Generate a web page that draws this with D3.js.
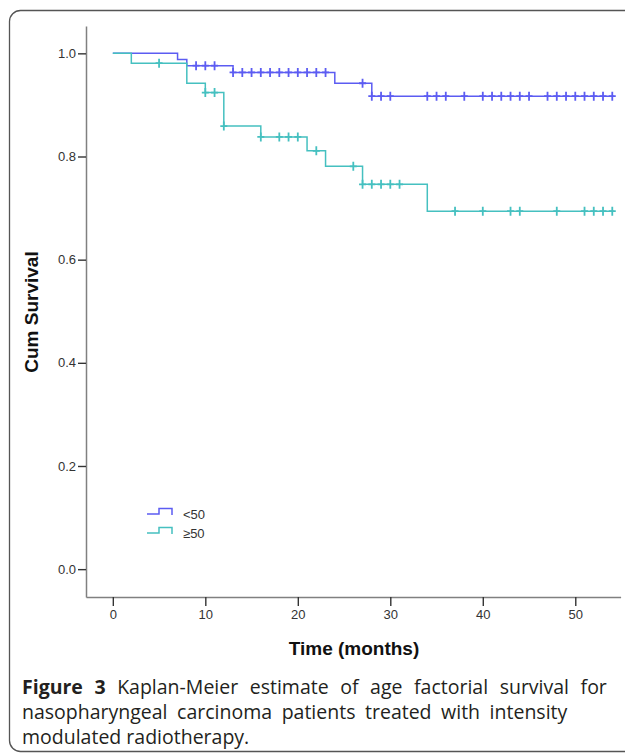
<!DOCTYPE html>
<html>
<head>
<meta charset="utf-8">
<script src="https://cdn.jsdelivr.net/npm/d3@7/dist/d3.min.js"></script>
<style>
  html, body { margin: 0; padding: 0; background: #fff; }
  svg { display: block; }
</style>
</head>
<body>
<div id="chart"></div>
<script>
// ---- data ----
const timeTicks = [0, 10, 20, 30, 40, 50];
const survivalTicks = [0.0, 0.2, 0.4, 0.6, 0.8, 1.0];
const groupLabels = ["<50", "\u226550"];

// age < 50
const youngStepTimes = [0, 7, 8, 13, 24, 28];
const youngStepSurvival = [1.0, 0.988, 0.976, 0.963, 0.942, 0.917];
const youngCensored = [9, 10, 11, 13, 14, 15, 16, 17, 18, 19, 20, 21, 22, 23, 27, 28, 29, 30,
  34, 35, 36, 38, 40, 41, 42, 43, 44, 45, 47, 48, 49, 50, 51, 52, 53, 54];
const youngLastTime = 54.2;

// age >= 50
const oldStepTimes = [0, 2, 8, 10, 12, 16, 21, 23, 27, 34];
const oldStepSurvival = [1.0, 0.981, 0.942, 0.924, 0.859, 0.838, 0.811, 0.781, 0.746, 0.694];
const oldCensored = [5, 10, 11, 12, 16, 18, 19, 20, 22, 26, 27, 28, 29, 30, 31, 37, 40, 43, 44,
  48, 51, 52, 53, 54];
const oldLastTime = 54.2;

const captionLines = [
  ["Figure 3", " Kaplan-Meier estimate of age factorial survival for"],
  ["", "nasopharyngeal carcinoma patients treated with intensity"],
  ["", "modulated radiotherapy."]
];

// ---- drawing ----
const width = 625;
const height = 755;
const colors = ["#5c5cf2", "#45c0c0"];

const svg = d3.select("#chart")
  .append("svg")
  .attr("width", width)
  .attr("height", height)
  .attr("viewBox", `0 0 ${width} ${height}`);

// outer panel frame (runs past the right edge)
svg.append("rect")
  .attr("x", 9.5)
  .attr("y", 10.5)
  .attr("width", 660)
  .attr("height", 741)
  .attr("rx", 11)
  .attr("fill", "none")
  .attr("stroke", "#555")
  .attr("stroke-width", 1.3);

const x = d3.scaleLinear().domain([-2.9, 54.9]).range([86, 620.6]);
const y = d3.scaleLinear().domain([-0.054, 1.053]).range([597, 26]);

const font = "'Liberation Sans', Arial, sans-serif";

// y axis
svg.append("g")
  .attr("transform", `translate(${x.range()[0]},0)`)
  .call(d3.axisLeft(y).tickValues(survivalTicks).tickFormat(d3.format(".1f")).tickSize(8).tickSizeOuter(0).tickPadding(2))
  .call((g) => g.select(".domain").attr("stroke", "#808080").attr("stroke-width", 1.5))
  .call((g) => g.selectAll(".tick line").attr("stroke", "#333").attr("stroke-width", 1.4))
  .call((g) => g.selectAll("text").attr("fill", "#333").attr("font-size", 13).attr("font-family", font));

// x axis
svg.append("g")
  .attr("transform", `translate(0,${y.range()[0]})`)
  .call(d3.axisBottom(x).tickValues(timeTicks).tickFormat(d3.format("d")).tickSize(9).tickSizeOuter(0).tickPadding(4))
  .call((g) => g.select(".domain").attr("stroke", "#808080").attr("stroke-width", 1.5))
  .call((g) => g.selectAll(".tick line").attr("stroke", "#333").attr("stroke-width", 1.4))
  .call((g) => g.selectAll("text").attr("fill", "#333").attr("font-size", 13).attr("font-family", font));

// axis titles
svg.append("text")
  .attr("transform", "translate(38,312) rotate(-90)")
  .attr("text-anchor", "middle")
  .attr("font-family", font)
  .attr("font-weight", "bold")
  .attr("font-size", 19)
  .attr("fill", "#111")
  .text("Cum Survival");

svg.append("text")
  .attr("x", 354)
  .attr("y", 655)
  .attr("text-anchor", "middle")
  .attr("font-family", font)
  .attr("font-weight", "bold")
  .attr("font-size", 19)
  .attr("fill", "#111")
  .text("Time (months)");

// survival curves
const series = [
  { times: youngStepTimes, surv: youngStepSurvival, censored: youngCensored, last: youngLastTime },
  { times: oldStepTimes, surv: oldStepSurvival, censored: oldCensored, last: oldLastTime }
];

const line = d3.line()
  .x((d) => x(d[0]))
  .y((d) => y(d[1]))
  .curve(d3.curveStepAfter);

series.forEach((s, i) => {
  const pts = s.times.map((t, j) => [t, s.surv[j]]);
  pts.push([s.last, s.surv[s.surv.length - 1]]);

  svg.append("path")
    .datum(pts)
    .attr("d", line)
    .attr("fill", "none")
    .attr("stroke", colors[i])
    .attr("stroke-width", 1.5);

  const survAt = (t) => {
    let v = s.surv[0];
    s.times.forEach((tt, j) => { if (tt <= t) v = s.surv[j]; });
    return v;
  };

  svg.append("g")
    .selectAll("path")
    .data(s.censored)
    .join("path")
    .attr("d", (t) => {
      const cx = x(t), cy = y(survAt(t));
      return `M${cx},${cy - 4.5}V${cy + 4.5}M${cx - 3.5},${cy}H${cx + 3.5}`;
    })
    .attr("stroke", colors[i])
    .attr("stroke-width", 1.8)
    .attr("fill", "none");
});

// legend
const legend = svg.append("g").attr("transform", "translate(147,514)");
groupLabels.forEach((label, i) => {
  const row = legend.append("g").attr("transform", `translate(0,${i * 19})`);
  row.append("path")
    .attr("d", "M0,0H12V-5.5H25V1")
    .attr("fill", "none")
    .attr("stroke", colors[i])
    .attr("stroke-width", 1.5);
  row.append("text")
    .attr("x", 36)
    .attr("y", 4.5)
    .attr("font-family", font)
    .attr("font-size", 13)
    .attr("fill", "#333")
    .text(label);
});

// caption (first line justified, second slightly wider spaced as in the print)
const wordSpacing = [6.5, 4.5, 0];
captionLines.forEach((parts, i) => {
  const t = svg.append("text")
    .attr("x", 22)
    .attr("y", 694 + i * 25)
    .attr("font-family", "'Open Sans', 'Noto Sans', sans-serif")
    .attr("font-size", 19.5)
    .attr("fill", "#231f20")
    .attr("word-spacing", wordSpacing[i]);
  if (parts[0]) t.append("tspan").attr("font-weight", "bold").text(parts[0]);
  t.append("tspan").text(parts[1]);
});
</script>
</body>
</html>
